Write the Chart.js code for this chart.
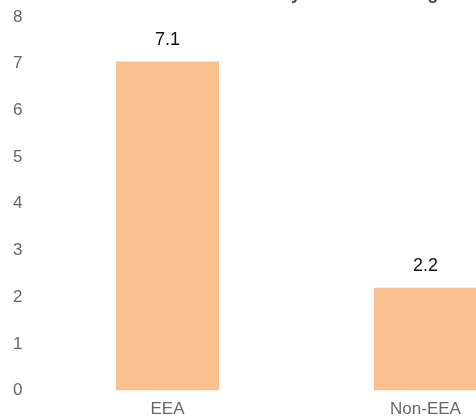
<!DOCTYPE html>
<html>
<head>
<meta charset="utf-8">
<script src="https://cdn.jsdelivr.net/npm/chart.js@4/dist/chart.umd.min.js"></script>
<style>
  html, body { margin: 0; padding: 0; background: #fff; overflow: hidden; width: 476px; height: 416px; }
  #wrap { position: absolute; left: 0; top: -27.5px; width: 596px; height: 451.5px; }
</style>
</head>
<body>
<div id="wrap"><canvas id="c" width="596" height="451"></canvas></div>
<script>
const categories = ['EEA', 'Non-EEA'];
const values = [7.05, 2.2];
const yTicks = [0, 1, 2, 3, 4, 5, 6, 7, 8];
const titleText = 'Share of All Tourists by Residence Origin';

Chart.defaults.font.family = 'Arial, "Liberation Sans", Helvetica, sans-serif';

const valueLabels = {
  id: 'valueLabels',
  afterDatasetsDraw(chart) {
    const ctx = chart.ctx;
    const meta = chart.getDatasetMeta(0);
    ctx.save();
    ctx.font = '18px Arial, "Liberation Sans", sans-serif';
    ctx.fillStyle = '#111';
    ctx.textAlign = 'center';
    ctx.textBaseline = 'alphabetic';
    meta.data.forEach((bar, i) => {
      const v = chart.data.datasets[0].data[i];
      ctx.fillText((Math.round(v * 10) / 10).toFixed(1), bar.x, bar.y - 16.5);
    });
    ctx.restore();
  }
};

new Chart(document.getElementById('c'), {
  type: 'bar',
  data: {
    labels: categories,
    datasets: [{
      data: values,
      backgroundColor: '#fac08f',
      borderWidth: 0,
      barPercentage: 0.5,
      categoryPercentage: 0.8
    }]
  },
  options: {
    responsive: false,
    animation: false,
    layout: { padding: { left: 0, right: 41.5, top: 0, bottom: 0 } },
    plugins: {
      legend: { display: false },
      tooltip: { enabled: false },
      title: {
        display: true,
        text: titleText,
        color: '#444',
        font: { size: 18, weight: 'bold' },
        padding: { top: 10, bottom: 12.5 }
      }
    },
    scales: {
      x: {
        grid: { display: false, drawTicks: true },
        border: { display: false },
        ticks: { color: '#666', font: { size: 17 }, padding: 1 },
        afterFit(scale) { scale.height = 33.5; }
      },
      y: {
        min: 0,
        max: 8,
        afterBuildTicks(axis) { axis.ticks = yTicks.map(v => ({ value: v })); },
        grid: { display: false, drawTicks: false },
        border: { display: false },
        ticks: { color: '#666', font: { size: 17 }, padding: 16 },
        afterFit(scale) { scale.width = 38.5; }
      }
    }
  },
  plugins: [valueLabels]
});
</script>
</body>
</html>
